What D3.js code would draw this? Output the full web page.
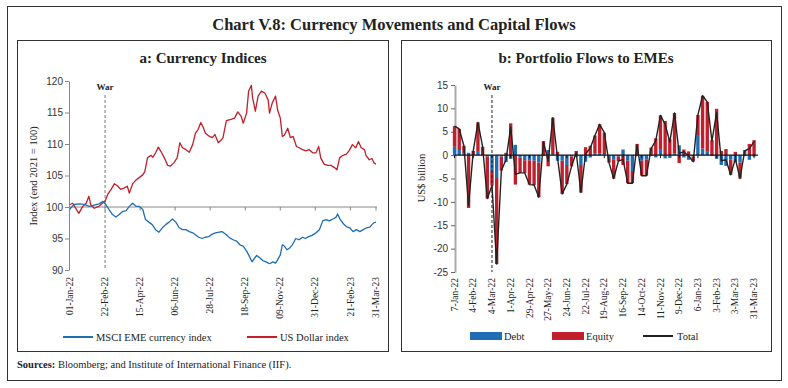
<!DOCTYPE html>
<html lang="en">
<head>
<meta charset="UTF-8">
<title>Chart V.8: Currency Movements and Capital Flows</title>
<script src="https://cdn.jsdelivr.net/npm/d3@7"></script>
<style>
    body { margin: 0; background: #fff; }
    svg text { font-family: "Liberation Serif", serif; fill: #222; }
    .yaxis text { font-family: "Liberation Sans", sans-serif; font-size: 10px; fill: #333; }
    .xlab { font-size: 9.5px; }
</style>
</head>
<body>
<script>
// ---- Panel a: currency indices (end 2021 = 100) ----
const usdDates = ["2022-01-01","2022-01-05","2022-01-10","2022-01-14","2022-01-20","2022-01-25","2022-01-29","2022-02-01","2022-02-06","2022-02-13","2022-02-18","2022-02-22","2022-02-26","2022-03-03","2022-03-08","2022-03-13","2022-03-17","2022-03-22","2022-03-27","2022-03-30","2022-04-04","2022-04-09","2022-04-14","2022-04-19","2022-04-22","2022-04-26","2022-05-01","2022-05-04","2022-05-08","2022-05-12","2022-05-16","2022-05-21","2022-05-26","2022-05-30","2022-06-04","2022-06-09","2022-06-13","2022-06-17","2022-06-22","2022-06-27","2022-07-02","2022-07-06","2022-07-10","2022-07-14","2022-07-17","2022-07-21","2022-07-27","2022-07-31","2022-08-04","2022-08-09","2022-08-14","2022-08-16","2022-08-21","2022-08-28","2022-09-02","2022-09-07","2022-09-12","2022-09-15","2022-09-20","2022-09-23","2022-09-27","2022-09-29","2022-10-03","2022-10-07","2022-10-12","2022-10-17","2022-10-22","2022-10-24","2022-10-28","2022-11-02","2022-11-05","2022-11-09","2022-11-12","2022-11-15","2022-11-20","2022-11-24","2022-11-28","2022-12-03","2022-12-07","2022-12-12","2022-12-17","2022-12-22","2022-12-27","2023-01-01","2023-01-05","2023-01-08","2023-01-13","2023-01-18","2023-01-23","2023-01-28","2023-02-01","2023-02-05","2023-02-10","2023-02-15","2023-02-19","2023-02-24","2023-03-01","2023-03-05","2023-03-09","2023-03-14","2023-03-16","2023-03-21","2023-03-25","2023-03-28","2023-03-31"];
const usdValues = [100.4,100.6,99.7,99.0,100.1,100.6,101.7,100.3,99.8,100.1,100.6,100.9,102.0,102.8,103.7,103.3,102.8,103.0,103.3,102.2,103.7,104.3,104.7,105.1,105.6,107.8,108.2,107.9,108.6,109.5,108.8,107.8,106.6,106.5,107.0,107.8,110.2,109.4,109.1,108.7,109.9,111.7,112.3,113.4,112.8,111.7,111.2,111.0,111.5,110.2,110.7,111.0,113.7,113.9,114.1,115.1,114.4,113.3,114.9,118.4,119.3,117.3,115.2,117.6,118.4,118.1,117.0,114.9,116.5,117.6,115.4,114.1,111.2,111.4,112.5,111.0,111.2,109.6,109.4,109.1,108.9,109.1,108.6,108.6,109.6,107.8,106.8,106.6,106.6,106.3,105.9,107.8,108.2,108.4,108.9,109.9,109.4,110.4,109.4,109.1,108.2,107.5,107.7,107.0,106.8];

const msciDates = ["2022-01-01","2022-01-07","2022-01-15","2022-01-22","2022-01-30","2022-02-06","2022-02-13","2022-02-19","2022-02-23","2022-02-28","2022-03-05","2022-03-10","2022-03-15","2022-03-20","2022-03-25","2022-03-30","2022-04-04","2022-04-09","2022-04-14","2022-04-19","2022-04-23","2022-04-28","2022-05-03","2022-05-08","2022-05-13","2022-05-18","2022-05-23","2022-05-28","2022-06-02","2022-06-07","2022-06-12","2022-06-17","2022-06-22","2022-06-27","2022-07-02","2022-07-06","2022-07-11","2022-07-16","2022-07-21","2022-07-26","2022-07-31","2022-08-05","2022-08-14","2022-08-16","2022-08-21","2022-08-26","2022-08-31","2022-09-05","2022-09-10","2022-09-15","2022-09-20","2022-09-24","2022-09-28","2022-10-02","2022-10-05","2022-10-10","2022-10-14","2022-10-19","2022-10-24","2022-10-29","2022-11-02","2022-11-05","2022-11-09","2022-11-12","2022-11-15","2022-11-19","2022-11-23","2022-11-27","2022-12-02","2022-12-07","2022-12-12","2022-12-16","2022-12-21","2022-12-26","2023-01-01","2023-01-06","2023-01-11","2023-01-16","2023-01-21","2023-01-26","2023-01-31","2023-02-02","2023-02-06","2023-02-11","2023-02-15","2023-02-20","2023-02-25","2023-03-02","2023-03-07","2023-03-12","2023-03-17","2023-03-22","2023-03-25","2023-03-28","2023-03-31"];
const msciValues = [99.7,100.4,100.5,100.4,100.1,100.3,100.5,100.9,100.4,99.6,98.8,98.4,98.8,99.3,99.4,100.1,100.6,100.1,100.1,99.6,98.0,97.6,97.2,96.4,96.0,96.7,97.2,97.6,98.1,97.6,96.7,96.4,96.4,96.1,95.9,95.6,95.2,95.0,95.2,95.3,95.7,95.9,96.1,96.0,95.6,95.1,94.8,94.6,94.0,93.8,93.0,92.2,91.3,91.9,92.3,91.9,91.5,91.3,91.0,91.3,91.1,91.6,92.4,94.0,93.8,93.2,93.5,94.0,95.0,94.8,95.2,95.0,95.3,95.5,95.9,96.4,97.8,98.0,97.8,98.1,98.4,98.9,98.0,97.3,96.9,96.7,96.1,96.4,96.1,96.4,96.7,96.8,97.2,97.5,97.6];

const currencyTicks = ["2022-01-01","2022-02-22","2022-04-15","2022-06-06","2022-07-28","2022-09-18","2022-11-09","2022-12-31","2023-02-21","2023-03-31"];
const currencyYTicks = [90, 95, 100, 105, 110, 115, 120];
const currencyWar = "2022-02-22";

// ---- Panel b: weekly portfolio flows to EMEs (US$ billion) ----
const flowWeeks = ["7-Jan-22","14-Jan-22","21-Jan-22","28-Jan-22","4-Feb-22","11-Feb-22","18-Feb-22","25-Feb-22","4-Mar-22","11-Mar-22","18-Mar-22","25-Mar-22","1-Apr-22","8-Apr-22","15-Apr-22","22-Apr-22","29-Apr-22","6-May-22","13-May-22","20-May-22","27-May-22","3-Jun-22","10-Jun-22","17-Jun-22","24-Jun-22","1-Jul-22","8-Jul-22","15-Jul-22","22-Jul-22","29-Jul-22","5-Aug-22","12-Aug-22","19-Aug-22","26-Aug-22","2-Sep-22","9-Sep-22","16-Sep-22","23-Sep-22","30-Sep-22","7-Oct-22","14-Oct-22","21-Oct-22","28-Oct-22","4-Nov-22","11-Nov-22","18-Nov-22","25-Nov-22","2-Dec-22","9-Dec-22","16-Dec-22","23-Dec-22","30-Dec-22","6-Jan-23","13-Jan-23","20-Jan-23","27-Jan-23","3-Feb-23","10-Feb-23","17-Feb-23","24-Feb-23","3-Mar-23","10-Mar-23","17-Mar-23","24-Mar-23","31-Mar-23"];
const debtFlows = [1.8,1.1,0.4,0.5,0.0,0.7,0.0,-0.3,-3.4,-4.9,
    -0.3,-1.5,-0.8,2.2,-0.5,-1.1,-1.1,-1.2,-1.6,-0.2,
    1.1,0.2,-1.2,-1.2,-2.1,-0.3,-0.4,-2.1,-1.4,-0.5,
    0.4,0.3,0.2,-0.4,-1.0,-0.3,1.2,-1.2,-3.4,-0.2,
    -1.2,-0.9,-0.2,-0.5,1.3,-0.7,-0.6,0.4,2.1,-0.5,
    -1.0,-0.3,4.3,1.4,0.7,-0.2,-0.8,-2.1,-2.3,-0.9,
    -1.5,-1.6,1.1,-1.0,-0.3];
const equityFlows = [4.4,4.5,1.6,-11.3,0.9,6.3,1.8,-9.0,-3.1,-18.4,
    -3.0,0.5,6.8,-6.3,-3.3,-2.7,-5.2,-5.2,-7.4,3.0,
    -2.4,7.8,0.7,-7.1,-4.1,-2.1,0.9,-5.9,1.7,2.0,
    3.8,6.3,4.6,-1.2,-4.0,-1.0,-2.1,-4.8,-2.6,2.4,
    -3.2,-3.5,1.6,3.6,7.2,7.3,3.4,8.6,-1.7,1.2,
    0.8,-1.1,4.3,11.3,10.7,3.2,9.9,0.9,1.3,-3.3,
    0.7,-3.4,-0.2,2.4,3.2];
const totalFlows = [6.2,5.6,2.0,-10.8,0.9,7.0,1.8,-9.3,-6.5,-23.3,
    -3.3,-1.0,6.0,-4.1,-3.8,-3.8,-6.3,-6.4,-9.0,2.8,
    -1.3,8.0,-0.5,-8.3,-6.2,-2.4,0.5,-8.0,0.3,1.5,
    4.2,6.6,4.8,-1.6,-5.0,-1.3,-0.9,-6.0,-6.0,2.2,
    -4.4,-4.4,1.4,3.1,8.5,6.6,2.8,9.0,0.4,0.7,
    -0.2,-1.4,8.6,12.7,11.4,3.0,9.1,-1.2,-1.0,-4.2,
    -0.8,-5.0,0.9,1.4,2.9];
const flowTicks = ["7-Jan-22","4-Feb-22","4-Mar-22","1-Apr-22","29-Apr-22","27-May-22","24-Jun-22","22-Jul-22","19-Aug-22","16-Sep-22","14-Oct-22","11-Nov-22","9-Dec-22","6-Jan-23","3-Feb-23","3-Mar-23","31-Mar-23"];
const flowYTicks = [-25, -20, -15, -10, -5, 0, 5, 10, 15];
const flowWar = "4-Mar-22";

const blue = "#1f6db5";
const red = "#c01f2b";

const parse = d3.timeParse("%Y-%m-%d");
const fmtA = d3.timeFormat("%d-%b-%y");

const svg = d3.select("body").append("svg")
    .attr("width", 788)
    .attr("height", 388);

// frames
svg.append("rect").attr("x", 7.5).attr("y", 6.5).attr("width", 774).attr("height", 374)
    .attr("fill", "none").attr("stroke", "#333").attr("stroke-width", 1);
svg.append("rect").attr("x", 17.5).attr("y", 40.5).attr("width", 371).attr("height", 311)
    .attr("fill", "none").attr("stroke", "#333").attr("stroke-width", 1);
svg.append("rect").attr("x", 401.5).attr("y", 40.5).attr("width", 370).attr("height", 311)
    .attr("fill", "none").attr("stroke", "#333").attr("stroke-width", 1);

svg.append("text").attr("x", 394).attr("y", 30).attr("text-anchor", "middle")
    .style("font-size", "16.5px").style("font-weight", "bold")
    .text("Chart V.8: Currency Movements and Capital Flows");

svg.append("text").attr("x", 17).attr("y", 368).style("font-size", "10.5px")
    .call(t => t.append("tspan").style("font-weight", "bold").text("Sources:"))
    .call(t => t.append("tspan").text(" Bloomberg; and Institute of International Finance (IIF)."));

// ================= Panel a =================
const ga = svg.append("g");
ga.append("text").attr("x", 203).attr("y", 63).attr("text-anchor", "middle")
    .style("font-size", "15px").style("font-weight", "bold").text("a: Currency Indices");

const xa = d3.scaleTime()
    .domain([parse("2022-01-01"), parse("2023-03-31")])
    .range([70, 376]);
const ya = d3.scaleLinear().domain([90, 120]).range([270, 81]);

ga.append("g").attr("class", "yaxis")
    .attr("transform", "translate(69,0)")
    .call(d3.axisLeft(ya).tickValues(currencyYTicks).tickSize(4).tickSizeOuter(0).tickPadding(2))
    .call(g => g.selectAll("path, line").attr("stroke", "#888"));

// baseline at 100 with small ticks
ga.append("line").attr("x1", 69).attr("x2", 377).attr("y1", ya(100)).attr("y2", ya(100))
    .attr("stroke", "#888").attr("stroke-width", 1);
ga.selectAll(".tka").data(currencyTicks).join("line")
    .attr("x1", d => xa(parse(d))).attr("x2", d => xa(parse(d)))
    .attr("y1", ya(100)).attr("y2", ya(100) + 3.5)
    .attr("stroke", "#888");

ga.selectAll(".xlab-a").data(currencyTicks).join("text")
    .attr("class", "xlab")
    .attr("transform", d => `translate(${xa(parse(d))},277) rotate(-90)`)
    .attr("text-anchor", "end").attr("dy", "0.33em")
    .text(d => fmtA(parse(d)));

// war marker
ga.append("line")
    .attr("x1", xa(parse(currencyWar))).attr("x2", xa(parse(currencyWar)))
    .attr("y1", 95).attr("y2", 270)
    .attr("stroke", "#777").attr("stroke-width", 1).attr("stroke-dasharray", "3,2");
ga.append("text").attr("x", xa(parse(currencyWar))).attr("y", 90).attr("text-anchor", "middle")
    .style("font-size", "9px").style("font-weight", "bold").text("War");

const lineA = d3.line().x(d => xa(d[0])).y(d => ya(d[1]));
const usdSeries = usdDates.map((d, i) => [parse(d), usdValues[i]]);
const msciSeries = msciDates.map((d, i) => [parse(d), msciValues[i]]);

ga.append("path").datum(usdSeries).attr("d", lineA)
    .attr("fill", "none").attr("stroke", red).attr("stroke-width", 1.3).attr("stroke-linejoin", "round");
ga.append("path").datum(msciSeries).attr("d", lineA)
    .attr("fill", "none").attr("stroke", blue).attr("stroke-width", 1.3).attr("stroke-linejoin", "round");

ga.append("text")
    .attr("transform", "translate(37,176) rotate(-90)")
    .attr("text-anchor", "middle").style("font-size", "10.5px")
    .text("Index (end 2021 = 100)");

// legend a
const legA = [
    { label: "MSCI EME currency index", color: blue, x: 63 },
    { label: "US Dollar index", color: red, x: 247 }
];
legA.forEach(l => {
    ga.append("line").attr("x1", l.x).attr("x2", l.x + 30).attr("y1", 337).attr("y2", 337)
        .attr("stroke", l.color).attr("stroke-width", 2);
    ga.append("text").attr("x", l.x + 33).attr("y", 340.5).style("font-size", "10.5px").text(l.label);
});

// ================= Panel b =================
const gb = svg.append("g");
gb.append("text").attr("x", 586).attr("y", 63).attr("text-anchor", "middle")
    .style("font-size", "15px").style("font-weight", "bold").text("b: Portfolio Flows to EMEs");

const xb = d3.scaleBand().domain(flowWeeks).range([452.2, 756.4]).paddingInner(0.28).paddingOuter(0.14);
const yb = d3.scaleLinear().domain([-25, 15]).range([272, 85]);

gb.append("g").attr("class", "yaxis")
    .attr("transform", "translate(455,0)")
    .call(d3.axisLeft(yb).tickValues(flowYTicks).tickSize(4).tickSizeOuter(0).tickPadding(3)
        .tickFormat(d => String(d)))
    .call(g => g.select("path").attr("stroke", "#aaa").attr("stroke-width", 2))
    .call(g => g.selectAll("line").attr("stroke", "#666"));

const table = flowWeeks.map((w, i) => ({ week: w, debt: debtFlows[i], equity: equityFlows[i] }));
const stacked = d3.stack().keys(["debt", "equity"]).offset(d3.stackOffsetDiverging)(table);
const colorB = { debt: blue, equity: red };

gb.selectAll(".series").data(stacked).join("g")
    .attr("fill", d => colorB[d.key])
    .selectAll("rect").data(d => d).join("rect")
    .attr("x", d => xb(d.data.week))
    .attr("width", xb.bandwidth())
    .attr("y", d => yb(Math.max(d[0], d[1])))
    .attr("height", d => Math.abs(yb(d[0]) - yb(d[1])));

// zero axis
gb.append("line").attr("x1", 455).attr("x2", 758).attr("y1", yb(0)).attr("y2", yb(0))
    .attr("stroke", "#111").attr("stroke-width", 1.2);
gb.selectAll(".tkb").data(flowTicks).join("line")
    .attr("x1", d => xb(d) + xb.bandwidth() / 2).attr("x2", d => xb(d) + xb.bandwidth() / 2)
    .attr("y1", yb(0)).attr("y2", yb(0) + 3)
    .attr("stroke", "#111");

const lineB = d3.line()
    .x((d, i) => xb(flowWeeks[i]) + xb.bandwidth() / 2)
    .y(d => yb(d));
gb.append("path").datum(totalFlows).attr("d", lineB)
    .attr("fill", "none").attr("stroke", "#222").attr("stroke-width", 1.4).attr("stroke-linejoin", "round");

gb.selectAll(".xlab-b").data(flowTicks).join("text")
    .attr("class", "xlab")
    .attr("transform", d => `translate(${xb(d) + xb.bandwidth() / 2},278) rotate(-90)`)
    .attr("text-anchor", "end").attr("dy", "0.33em")
    .text(d => d);

// war marker
const warX = xb(flowWar) + xb.bandwidth() / 2;
gb.append("line").attr("x1", warX).attr("x2", warX).attr("y1", 95).attr("y2", 272)
    .attr("stroke", "#222").attr("stroke-width", 1).attr("stroke-dasharray", "3,2");
gb.append("text").attr("x", warX).attr("y", 90).attr("text-anchor", "middle")
    .style("font-size", "9px").style("font-weight", "bold").text("War");

gb.append("text")
    .attr("transform", "translate(425,178) rotate(-90)")
    .attr("text-anchor", "middle").style("font-size", "10.5px")
    .text("US$ billion");

// legend b
[{ label: "Debt", color: blue, x: 470 }, { label: "Equity", color: red, x: 552 }].forEach(l => {
    gb.append("rect").attr("x", l.x).attr("y", 332).attr("width", 32).attr("height", 8).attr("fill", l.color);
    gb.append("text").attr("x", l.x + 34).attr("y", 340).style("font-size", "10.5px").text(l.label);
});
gb.append("line").attr("x1", 643).attr("x2", 673).attr("y1", 336).attr("y2", 336)
    .attr("stroke", "#222").attr("stroke-width", 2);
gb.append("text").attr("x", 677).attr("y", 340).style("font-size", "10.5px").text("Total");
</script>
</body>
</html>
